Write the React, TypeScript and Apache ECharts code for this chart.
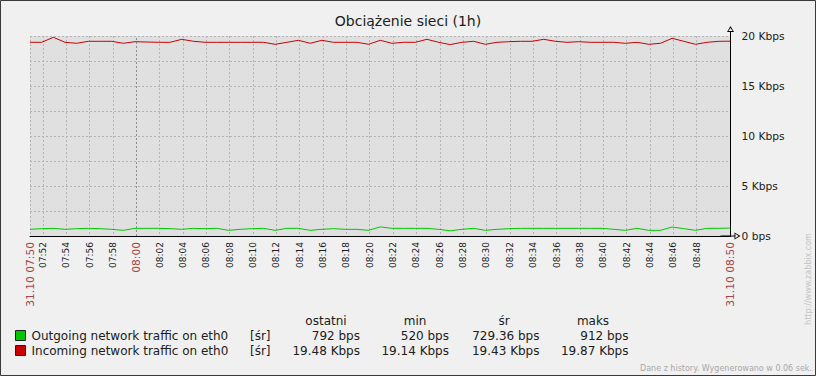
import React, { useEffect, useRef } from 'react';
import * as echarts from 'echarts';

// ---- data ----
const titleText = 'Obciążenie sieci (1h)';
const startTime = '07:50:54';
const periodMinutes = 60;
const rangeLabels = ['31.10 07:50', '31.10 08:50'];
const timeTicks = [
  '07:52', '07:54', '07:56', '07:58', '08:00', '08:02', '08:04', '08:06', '08:08', '08:10',
  '08:12', '08:14', '08:16', '08:18', '08:20', '08:22', '08:24', '08:26', '08:28', '08:30',
  '08:32', '08:34', '08:36', '08:38', '08:40', '08:42', '08:44', '08:46', '08:48',
];
const hourTicks = ['08:00'];

// one sample per minute, bps
const outgoing = [
  667, 733, 767, 667, 733, 767, 733, 667, 567, 767,
  767, 767, 733, 667, 767, 733, 767, 567, 667, 733,
  767, 567, 767, 767, 567, 667, 733, 667, 667, 567,
  912, 767, 767, 767, 767, 667, 520, 667, 767, 567,
  667, 733, 767, 767, 767, 767, 767, 767, 767, 767,
  667, 567, 767, 567, 567, 900, 733, 567, 767, 767,
  792,
];
const incoming = [
  19370, 19370, 19870, 19370, 19270, 19470, 19470, 19470, 19270, 19430,
  19400, 19370, 19370, 19670, 19470, 19370, 19370, 19370, 19370, 19370,
  19370, 19170, 19370, 19570, 19270, 19570, 19370, 19370, 19370, 19170,
  19570, 19270, 19370, 19370, 19670, 19370, 19140, 19370, 19470, 19170,
  19370, 19430, 19470, 19470, 19670, 19470, 19370, 19430, 19370, 19370,
  19370, 19270, 19370, 19170, 19270, 19770, 19470, 19170, 19370, 19470,
  19480,
];

const legendHeaders = ['ostatni', 'min', 'śr', 'maks'];
const seriesNames = ['Outgoing network traffic on eth0', 'Incoming network traffic on eth0'];
const seriesFunc = '[śr]';
const outgoingStats = ['792 bps', '520 bps', '729.36 bps', '912 bps'];
const incomingStats = ['19.48 Kbps', '19.14 Kbps', '19.43 Kbps', '19.87 Kbps'];
const footerText = 'Dane z history. Wygenerowano w 0.06 sek.';
const watermarkText = 'http://www.zabbix.com';

// ---- styles ----
const FONT = '"DejaVu Sans", "Liberation Sans", sans-serif';
const TEXT = '#202020';
const HIGHLIGHT = '#aa4444';
const GREEN = '#00c800';
const RED = '#c80000';
const GRID = '#b4b4b4';
const ARROW =
  'path://M3.5,0L7,6L0,6Z M3.5,1.9L1.3,5.1L5.7,5.1Z M3,6L4,6L4,20L3,20Z';

const toMin = (s: string) => {
  const p = s.split(':').map(Number);
  return p[0] * 60 + p[1] + (p[2] || 0) / 60;
};
const pad = (n: number) => (n < 10 ? '0' : '') + n;
const fmtMin = (m: number) => {
  const h = Math.floor(m / 60);
  const mm = Math.floor(m - h * 60);
  return pad(h) + ':' + pad(mm);
};

export default function App() {
  const ref = useRef<HTMLDivElement>(null);
  useEffect(() => {
    if (!ref.current) return;
    const chart = echarts.init(ref.current, undefined, { renderer: 'svg' });
    const start = toMin(startTime);
    const end = start + periodMinutes;
    const tickVals = timeTicks.map(toMin);
    const hourVals = hourTicks.map(toMin);
    const minorVals = timeTicks.filter((t) => hourTicks.indexOf(t) < 0).map(toMin);

    const legendCols = [326, 415, 504, 593];
    const valueRight = [360, 449, 539.5, 628.5];
    const rows = [
      { y: 336, color: GREEN, name: seriesNames[0], stats: outgoingStats },
      { y: 351, color: RED, name: seriesNames[1], stats: incomingStats },
    ];
    const txt = (text: string, x: number, y: number, align: string, extra: any = {}) => ({
      type: 'text',
      x,
      y,
      silent: true,
      style: {
        text,
        fill: TEXT,
        fontSize: 12,
        fontFamily: FONT,
        align,
        verticalAlign: 'middle',
        ...extra,
      },
    });
    const graphics: any[] = [];
    legendHeaders.forEach((h, i) => graphics.push(txt(h, legendCols[i], 321, 'center')));
    rows.forEach((r) => {
      graphics.push({
        type: 'rect',
        silent: true,
        shape: { x: 15.5, y: r.y - 5.5, width: 10, height: 10 },
        style: { fill: r.color, stroke: '#202020', lineWidth: 1 },
      });
      graphics.push(txt(r.name, 31.5, r.y, 'left'));
      graphics.push(txt(seriesFunc, 250, r.y, 'left'));
      r.stats.forEach((s, i) => graphics.push(txt(s, valueRight[i], r.y, 'right')));
    });
    graphics.push(txt(footerText, 812, 368, 'right', { fontSize: 8, fill: '#a8a8a8' }));
    graphics.push({
      type: 'text',
      x: 808,
      y: 279,
      rotation: Math.PI / 2,
      silent: true,
      style: {
        text: watermarkText,
        fill: '#c4c4c4',
        fontSize: 8,
        fontFamily: FONT,
        align: 'center',
        verticalAlign: 'middle',
      },
    });
    graphics.push({
      type: 'rect',
      silent: true,
      z: 100,
      shape: { x: 0.5, y: 0.5, width: 815, height: 375 },
      style: { fill: 'none', stroke: '#3a3a3a', lineWidth: 1 },
    });

    chart.setOption({
      animation: false,
      backgroundColor: '#f0f0f0',
      textStyle: { fontFamily: FONT },
      title: {
        text: titleText,
        left: 'center',
        top: 9,
        textStyle: { fontSize: 14, fontWeight: 'normal', color: TEXT, fontFamily: FONT },
      },
      grid: {
        left: 30,
        right: 85.5,
        top: 36,
        bottom: 140,
        show: true,
        backgroundColor: '#e0e0e0',
        borderWidth: 0,
        containLabel: false,
        outerBoundsMode: 'none',
      },
      xAxis: {
        type: 'value',
        min: start,
        max: end,
        axisLine: {
          show: true,
          onZero: false,
          lineStyle: { color: '#000', width: 1 },
          symbol: ['none', ARROW],
          symbolSize: [7, 20],
        },
        axisTick: { show: false, customValues: [start, ...minorVals] },
        splitLine: { show: true, lineStyle: { type: [2, 2], color: GRID, width: 1 } },
        axisLabel: {
          customValues: [start, ...tickVals, end],
          showMinLabel: true,
          showMaxLabel: true,
          rotate: 90,
          margin: 6,
          color: TEXT,
          fontSize: 9,
          fontFamily: FONT,
          formatter: (v: number) => {
            if (Math.abs(v - start) < 1e-6) return '{r|' + rangeLabels[0] + '}';
            if (Math.abs(v - end) < 1e-6) return '{r|' + rangeLabels[1] + '}';
            const s = fmtMin(v);
            if (hourTicks.indexOf(s) >= 0) return '{r|' + s + '}';
            return s;
          },
          rich: { r: { color: HIGHLIGHT, fontSize: 10.7, fontFamily: FONT } },
        },
      },
      yAxis: {
        type: 'value',
        position: 'right',
        min: 0,
        max: 20000,
        interval: 2500,
        axisLine: {
          show: true,
          onZero: false,
          lineStyle: { color: '#000', width: 1 },
          symbol: ['none', ARROW],
          symbolSize: [7, 20],
        },
        axisTick: { show: false },
        splitLine: { show: true, lineStyle: { type: [2, 2], color: GRID, width: 1 } },
        axisLabel: {
          margin: 11,
          color: TEXT,
          fontSize: 10.7,
          fontFamily: FONT,
          formatter: (v: number) => {
            if (v % 5000 !== 0) return '';
            return v === 0 ? '0 bps' : v / 1000 + ' Kbps';
          },
        },
      },
      series: [
        {
          name: seriesNames[0],
          type: 'line',
          showSymbol: false,
          silent: true,
          data: outgoing.map((v, i) => [start + i, v]),
          lineStyle: { color: GREEN, width: 1 },
          itemStyle: { color: GREEN },
          markLine: {
            silent: true,
            symbol: 'none',
            label: { show: false },
            lineStyle: { type: [2, 2], color: '#8c8c8c', width: 1 },
            data: hourVals.map((h) => ({ xAxis: h })),
          },
        },
        {
          name: seriesNames[1],
          type: 'line',
          showSymbol: false,
          silent: true,
          data: incoming.map((v, i) => [start + i, v]),
          lineStyle: { color: RED, width: 1 },
          itemStyle: { color: RED },
        },
      ],
      graphic: graphics,
    });
    return () => chart.dispose();
  }, []);
  return (
    <div
      ref={ref}
      style={{ position: 'absolute', left: 0, top: 0, width: 816, height: 376 }}
    />
  );
}
